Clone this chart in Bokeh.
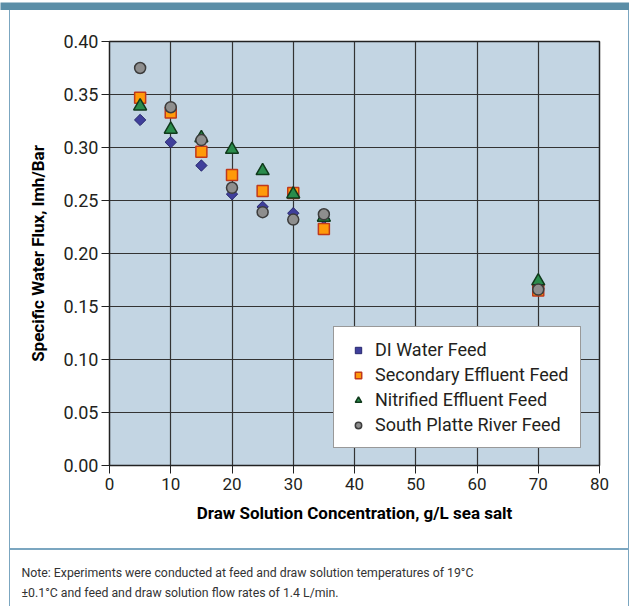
from bokeh.plotting import figure
from bokeh.layouts import column, row
from bokeh.models import (Range1d, NumeralTickFormatter, FixedTicker, Legend, LegendItem,
                          Div, Spacer, Title)
from bokeh.embed import file_html
from bokeh.resources import INLINE

# ---- data ----
conc = [5, 10, 15, 20, 25, 30, 35, 70]
di_water = [0.326, 0.305, 0.283, 0.256, 0.244, 0.238, 0.233, 0.167]
secondary = [0.347, 0.333, 0.296, 0.274, 0.259, 0.257, 0.223, 0.165]
nitrified = [0.339, 0.317, 0.309, 0.298, 0.278, 0.256, 0.234, 0.174]
south_platte = [0.375, 0.338, 0.307, 0.262, 0.239, 0.232, 0.237, 0.166]
series_names = ["DI Water Feed", "Secondary Effluent Feed", "Nitrified Effluent Feed",
                "South Platte River Feed"]
x_ticks = [0, 10, 20, 30, 40, 50, 60, 70, 80]
y_ticks = [0.0, 0.05, 0.10, 0.15, 0.20, 0.25, 0.30, 0.35, 0.40]
x_title = "Draw Solution Concentration, g/L sea salt"
y_title = "Specific Water Flux, lmh/Bar"
note_lines = ["Note: Experiments were conducted at feed and draw solution temperatures of 19\u00b0C",
              "\u00b10.1\u00b0C and feed and draw solution flow rates of 1.4 L/min."]

FONT = "Roboto"
TXT = "#231f20"
EDGE = "#7ba6c0"

# ---- top band ----
band = figure(width=629, height=10, toolbar_location=None, output_backend="svg",
              min_border=0, x_axis_location=None, y_axis_location=None,
              background_fill_color="#5b8ea7", border_fill_color="#5b8ea7",
              outline_line_color=None)
band.grid.visible = False

# ---- main chart ----
p = figure(width=618, height=538, x_range=Range1d(0, 80), y_range=Range1d(0, 0.40),
           toolbar_location=None, output_backend="svg",
           min_border_left=99, min_border_right=29, min_border_top=31, min_border_bottom=83,
           background_fill_color="#c3d5e3", border_fill_color="white",
           outline_line_color="#222222", outline_line_width=1.5)

p.xaxis.ticker = FixedTicker(ticks=x_ticks)
p.yaxis.ticker = FixedTicker(ticks=y_ticks)
p.yaxis.formatter = NumeralTickFormatter(format="0.00")
for ax in (p.xaxis[0], p.yaxis[0]):
    ax.major_label_text_font = FONT
    ax.major_label_text_color = TXT
    ax.axis_label_text_font = FONT
    ax.axis_label_text_font_style = "bold"
    ax.axis_label_text_font_size = "17px"
    ax.axis_label_text_color = "black"
    ax.axis_line_color = "#222222"
    ax.major_tick_line_color = "#222222"
    ax.major_tick_out = 8
    ax.major_tick_in = 0
    ax.minor_tick_line_color = None
p.yaxis.major_label_text_font_size = "18px"
p.xaxis.major_label_text_font_size = "17px"
p.xaxis.axis_label = x_title
p.yaxis.axis_label = y_title
p.xaxis.major_label_standoff = 4
p.yaxis.major_label_standoff = 3
p.xaxis.axis_label_standoff = 10
p.yaxis.axis_label_standoff = 12
p.grid.grid_line_color = "#333333"
p.grid.grid_line_width = 1.2

r1 = p.scatter(conc, di_water, marker="square", angle=0.785398, size=8,
               fill_color="#3f3f9b", line_color="#27276e", line_width=1)
r2 = p.scatter(conc, secondary, marker="square", size=11, fill_color="#ff9a0a",
               line_color="#c0391b", line_width=1.5)
r3 = p.scatter(conc, nitrified, marker="triangle", size=13, fill_color="#2a8c4c",
               line_color="#103a1c", line_width=1.5)
r4 = p.scatter(conc, south_platte, marker="circle", size=11, fill_color="#8e8e8e",
               line_color="#3c3c3c", line_width=1.5)

legend = Legend(items=[LegendItem(label=series_names[i], renderers=[r])
                       for i, r in enumerate([r1, r2, r3, r4])],
                location=(224, 17), background_fill_color="white", background_fill_alpha=1,
                border_line_color="#333333", border_line_width=1,
                label_text_font=FONT, label_text_font_size="18px", label_text_color=TXT,
                glyph_width=24, glyph_height=16, label_height=18, spacing=4,
                padding=12, margin=0, label_standoff=5)
p.add_layout(legend, "center")

# ---- note panel ----
note = figure(width=618, height=56, toolbar_location=None, output_backend="svg",
              min_border_top=51, min_border_bottom=0,
              x_axis_location=None, y_axis_location=None,
              background_fill_color="white", border_fill_color="white",
              outline_line_color=None)
note.grid.visible = False
for line in reversed(note_lines):
    note.add_layout(Title(text=line, align="left", offset=-88, standoff=4,
                          text_font=FONT, text_font_size="12.3px",
                          text_font_style="normal", text_color="#333333"), "above")

sep = Div(width=618, height=2, margin=0, styles={"background-color": EDGE})
edge_l = Div(width=1, height=596, margin=0, styles={"background-color": EDGE})
edge_r = Div(width=1, height=596, margin=0, styles={"background-color": EDGE})
body = row(Spacer(width=9, height=596, margin=0), edge_l, column(p, sep, note), edge_r)
layout = column(band, body)

open("out.html", "w").write(file_html(layout, INLINE))
